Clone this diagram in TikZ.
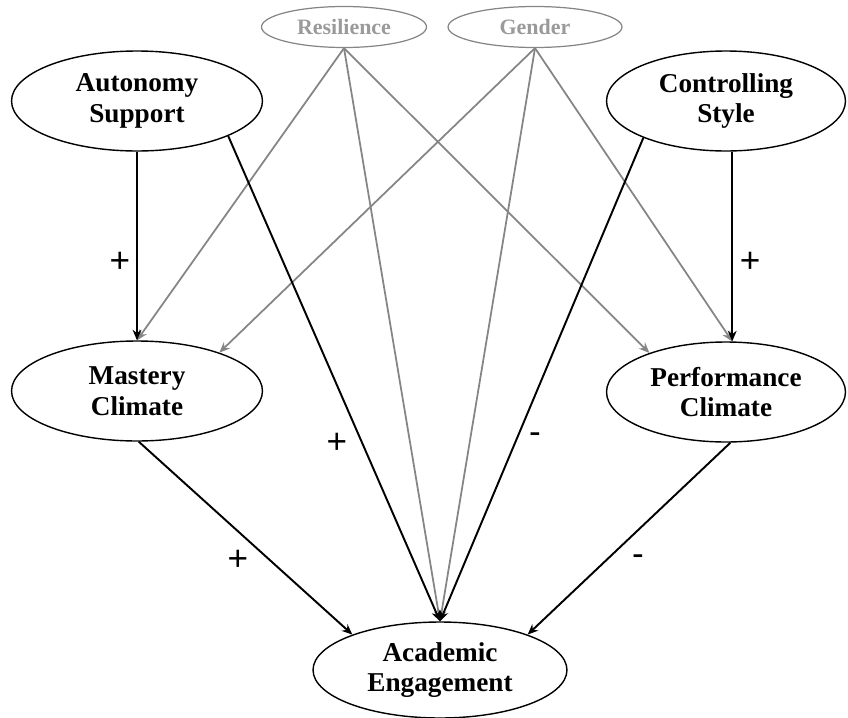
\documentclass[tikz,border=0pt]{standalone}
\usepackage{fontspec}
\setmainfont{Liberation Serif}
\newfontfamily\signfont{Liberation Sans}
\usetikzlibrary{shapes.geometric, arrows.meta, positioning}

\definecolor{covgray}{HTML}{858585}
\definecolor{covtext}{HTML}{9A9A9A}

\begin{document}
\begin{tikzpicture}[x=0.02cm, y=-0.02cm, >={Stealth[length=6pt,width=5pt]},
    latent/.style={ellipse, draw, line width=0.8pt, inner sep=0pt, align=center,
      minimum width=5.02cm, minimum height=2cm,
      font=\bfseries\fontsize{15.5}{17.5}\selectfont},
    covar/.style={ellipse, draw=covgray, line width=0.7pt, inner sep=0pt,
      text=covtext, minimum height=0.82cm,
      font=\bfseries\fontsize{12.5}{15}\selectfont},
    path/.style={->, line width=1.1pt},
    cpath/.style={->, line width=1pt, draw=covgray},
    sign/.style={font=\signfont\fontsize{20}{24}\selectfont, inner sep=0pt}]
    \useasboundingbox (0,0) rectangle (848,717);

    % --- Latent variables ---
    \node[latent] (autonomy) at (137,101) {Autonomy\\Support};
    \node[latent, minimum width=4.78cm] (controlling) at (726,101) {Controlling\\Style};
    \node[latent] (mastery) at (137,391) {Mastery\\Climate};
    \node[latent, minimum width=4.78cm] (performance) at (726,392) {Performance\\Climate};
    \node[latent, minimum width=5.08cm, minimum height=1.92cm] (engagement) at (440,670) {Academic\\Engagement};

    % --- Covariates ---
    \node[covar, minimum width=3.3cm] (resilience) at (344,27) {Resilience};
    \node[covar, minimum width=3.48cm] (gender) at (535,27) {Gender};

    % --- Covariate paths (gray) ---
    \draw[cpath] (resilience.south) -- (mastery.north);
    \draw[cpath] (resilience.south) -- (engagement.north);
    \draw[cpath] (resilience.south) -- (performance.153);
    \draw[cpath] (gender.south) -- (mastery.25);
    \draw[cpath] (gender.south) -- (engagement.north);
    \draw[cpath] (gender.south) -- (performance.83);

    % --- Structural paths ---
    \draw[path] (autonomy.south) -- (mastery.north);
    \draw[path] (controlling.-83) -- (performance.83);
    \draw[path] (autonomy.-21) -- (engagement.north);
    \draw[path] (controlling.204) -- (engagement.north);
    \draw[path] (mastery.-88) -- (engagement.158);
    \draw[path] (performance.-85) -- (engagement.22);

    % --- Signs ---
    \node[sign] (s1) at (120,262) {+};
    \node[sign] (s2) at (750,262) {+};
    \node[sign] (s3) at (337,443) {+};
    \node[sign] (s4) at (535,438) {-};
    \node[sign] (s5) at (238,560) {+};
    \node[sign] (s6) at (638,560) {-};
\end{tikzpicture}
\end{document}
